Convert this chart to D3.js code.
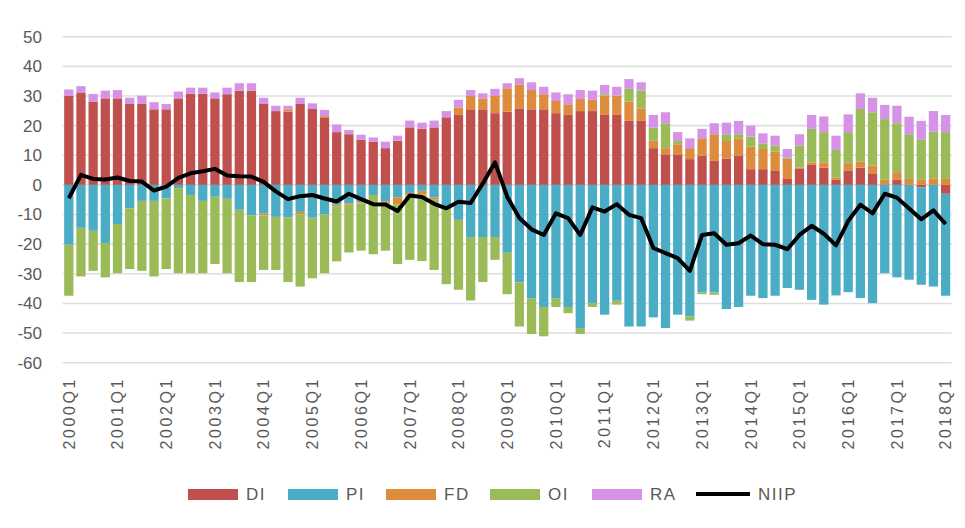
<!DOCTYPE html>
<html>
<head>
<meta charset="utf-8">
<script src="https://cdn.jsdelivr.net/npm/d3@7"></script>
<style>
  body { margin: 0; background: #fff; }
  text { font-family: "Liberation Sans", Arial, sans-serif; fill: #595959; }
</style>
</head>
<body>
<div id="chart"></div>
<script>

// quarters 2000Q1 .. 2018Q1
const years = d3.range(2000, 2019);
const quarters = [];
years.forEach(yr => {
  for (let q = 1; q <= 4; q++) {
    if (yr === 2018 && q > 1) break;
    quarters.push(yr + "Q" + q);
  }
});

const DI = [30, 31.2, 28, 29.2, 29.2, 27.3, 27.3, 25.5, 25.5, 29.2, 30.7, 30.7, 29.2, 30.6, 31.8, 31.8,
  27.3, 24.9, 24.7, 27.3, 25.6, 22.8, 17.8, 17.1, 15.2, 14.5, 12.4, 14.9, 19.4, 18.9, 19.4, 22.8,
  23.6, 25.5, 25.5, 24.2, 24.7, 25.8, 25.5, 25.5, 24.2, 23.6, 24.9, 24.9, 23.6, 23.6, 21.6, 21.6,
  12.4, 10.3, 10.3, 8.7, 9.8, 8.1, 8.8, 9.8, 5.3, 5.3, 4.7, 2, 5.4, 6.7, 5.8, 1.7,
  4.7, 5.8, 3.9, 0.2, 1.7, 0, -0.8, 0, -3];
const PI = [-20.2, -14.5, -15.5, -19.6, -13.2, -7.9, -5.4, -5.4, -4.6, -1.1, -3.4, -5.4, -4, -4.7, -8.4, -10.3,
  -9.7, -10.8, -11, -9.1, -11.1, -9.9, -6.7, -6.2, -5.9, -3.4, -5.5, -4.2, -2.7, -2, -4.2, -7.6,
  -11.8, -17.6, -17.6, -17.6, -22.9, -32.9, -38.4, -41.2, -38.4, -41.2, -48.3, -39.9, -43.8, -39.1, -47.8, -47.8,
  -44.7, -48.3, -43.8, -44.4, -36.3, -36.3, -41.9, -41.2, -37.4, -38.2, -37.4, -34.8, -35.4, -38.8, -40.4, -37.3,
  -36.2, -38.2, -39.9, -29.8, -31.2, -32, -32.9, -34.3, -34.4];
const FD = [0, 0, 0, 0, 0, 0, 0, 0, 0, 0, 0, 0, 0, 0, 0, 0,
  -0.6, 0, 0.8, -0.9, 0, 0.4, -0.5, -0.5, -0.4, 0, -0.8, -2.4, -0.9, -1.3, -0.6, 0,
  2.5, 4.5, 3.7, 5.8, 7.9, 8.1, 6.5, 5.1, 4.1, 3.6, 4.1, 3.8, 6.5, 6.5, 6.5, 4.2,
  2.5, 2.1, 3.4, 3.7, 5.9, 9, 6, 5.9, 7.6, 6.8, 6.5, 6.8, 0.4, 0.9, 1.8, 0.8,
  2.6, 2.1, 2.6, 1.5, 2.6, 2, 1.7, 2.2, 2];
const OI = [-17.2, -16.4, -13.5, -11.6, -16.6, -20.5, -23.6, -25.5, -23.8, -28.7, -26.4, -24.4, -22.7, -25.1, -24.4, -22.5,
  -18.4, -17.9, -21.8, -24.3, -20.4, -19.9, -18.6, -16.1, -15.9, -20, -15.9, -20.1, -21.7, -22.4, -23.9, -25.9,
  -23.6, -21.4, -15.2, -7.7, -14, -14.9, -11.9, -9.9, -2.8, -2.1, -2, -1.3, 0.5, -1.3, 4.3, 6,
  4.4, 8.4, 1.1, -1.4, -0.6, -0.8, 2.3, 1.4, 3.4, 1.9, 2.1, 0.4, 7.5, 11.3, 10.2, 9.3,
  10.5, 17.7, 18, 20.5, 16.5, 15.1, 13.5, 15.8, 15.8];
const RA = [2.2, 2.1, 2.7, 2.6, 2.8, 2.1, 2.8, 2.4, 1.8, 2.3, 2.1, 2.1, 2, 2.2, 2.5, 2.5,
  2.1, 1.8, 1.2, 2.1, 1.9, 2.1, 2.6, 1.4, 1.7, 1.5, 2.2, 1.7, 2.3, 2.1, 2.3, 2.1,
  2.6, 2, 1.7, 2.4, 1.7, 2.1, 2.6, 2.5, 2.9, 3.4, 3, 3.1, 3.1, 3, 3.3, 2.8,
  4.3, 3.7, 3, 3.3, 3.2, 3.7, 3.9, 4.5, 3.7, 3.4, 3.3, 2.9, 3.8, 4.7, 5.3, 4.8,
  6, 5.3, 4.9, 4.8, 5.9, 5.9, 6.4, 6.9, 5.8];
const NIIP = [-4.5, 3.4, 2, 1.8, 2.5, 1.3, 1.1, -1.9, -0.6, 2.4, 3.9, 4.6, 5.4, 3.2, 2.9, 2.8,
  1, -2.2, -4.8, -3.8, -3.4, -4.6, -5.6, -3, -4.8, -6.5, -6.6, -8.8, -3.6, -4.1, -6.4, -7.9,
  -5.7, -6.1, 0.5, 7.6, -4, -11.2, -15, -16.9, -9.6, -11.2, -16.9, -7.6, -9, -6.5, -10.1, -11.2,
  -21.3, -23, -24.7, -29, -16.9, -16.3, -20.2, -19.7, -17.1, -20, -20.2, -21.7, -16.9, -13.8, -16.5, -20.4,
  -12.2, -6.7, -9.6, -3, -4.3, -8, -11.6, -8.6, -13.2];

const seriesNames = ["DI", "PI", "FD", "OI", "RA"];
const colors = { DI: "#c0504d", PI: "#4bacc6", FD: "#dc8c3c", OI: "#9bbb59", RA: "#d692e6" };
const yTicks = d3.range(-60, 51, 10);

// build rows for the stack
const rows = quarters.map((q, i) => ({
  q: q, DI: DI[i], PI: PI[i], FD: FD[i], OI: OI[i], RA: RA[i], NIIP: NIIP[i]
}));

const W = 965, H = 528;
const plotLeft = 62.7, plotRight = 951.7, plotTop = 36.7, plotBottom = 362.7;

const svg = d3.select("#chart").append("svg")
  .attr("width", W).attr("height", H);

const x = d3.scaleBand()
  .domain(quarters)
  .range([plotLeft, plotRight])
  .paddingInner(0.24)
  .paddingOuter(0.12);

const y = d3.scaleLinear()
  .domain([-60, 50])
  .range([plotBottom, plotTop]);

// gridlines
svg.append("g")
  .selectAll("line")
  .data(yTicks)
  .join("line")
    .attr("x1", plotLeft).attr("x2", plotRight)
    .attr("y1", d => y(d)).attr("y2", d => y(d))
    .style("stroke", "#dedede")
    .style("stroke-width", 1.6);

// y labels
svg.append("g")
  .selectAll("text")
  .data(yTicks)
  .join("text")
    .attr("x", 42)
    .attr("y", d => y(d))
    .attr("dy", "0.35em")
    .attr("text-anchor", "end")
    .style("font-size", "17px")
    .text(d => d);

// stacked bars
const stack = d3.stack()
  .keys(seriesNames)
  .offset(d3.stackOffsetDiverging);
const stacked = stack(rows);

svg.append("g")
  .selectAll("g")
  .data(stacked)
  .join("g")
    .attr("fill", d => colors[d.key])
  .selectAll("rect")
  .data(d => d)
  .join("rect")
    .attr("x", d => x(d.data.q))
    .attr("width", x.bandwidth())
    .attr("y", d => y(Math.max(d[0], d[1])))
    .attr("height", d => Math.abs(y(d[0]) - y(d[1])));

// NIIP line
svg.append("path")
  .datum(rows)
  .attr("fill", "none")
  .attr("stroke", "#000")
  .attr("stroke-width", 4)
  .attr("stroke-linejoin", "round")
  .attr("d", d3.line()
    .x(d => x(d.q) + x.bandwidth() / 2)
    .y(d => y(d.NIIP)));

// x labels, one per year
svg.append("g")
  .selectAll("text")
  .data(quarters.filter(q => q.endsWith("Q1")))
  .join("text")
    .attr("transform", d => `translate(${x(d) + x.bandwidth() / 2},377) rotate(-90)`)
    .attr("dy", "0.36em")
    .attr("text-anchor", "end")
    .style("font-size", "16px")
    .style("letter-spacing", "2.6px")
    .text(d => d);

// legend
const legendItems = [
  { key: "DI", x: 188 }, { key: "PI", x: 288 }, { key: "FD", x: 386 },
  { key: "OI", x: 490 }, { key: "RA", x: 592 }, { key: "NIIP", x: 696 }
];
const lg = svg.append("g");
legendItems.forEach(it => {
  if (it.key === "NIIP") {
    lg.append("line")
      .attr("x1", it.x).attr("x2", it.x + 54)
      .attr("y1", 494).attr("y2", 494)
      .style("stroke", "#000").style("stroke-width", 4);
  } else {
    lg.append("rect")
      .attr("x", it.x).attr("y", 489)
      .attr("width", 50).attr("height", 11)
      .attr("fill", colors[it.key]);
  }
  lg.append("text")
    .attr("x", it.x + (it.key === "NIIP" ? 62 : 58))
    .attr("y", 494)
    .attr("dy", "0.36em")
    .style("font-size", "17px")
    .style("letter-spacing", "1.5px")
    .text(it.key);
});

</script>
</body>
</html>
